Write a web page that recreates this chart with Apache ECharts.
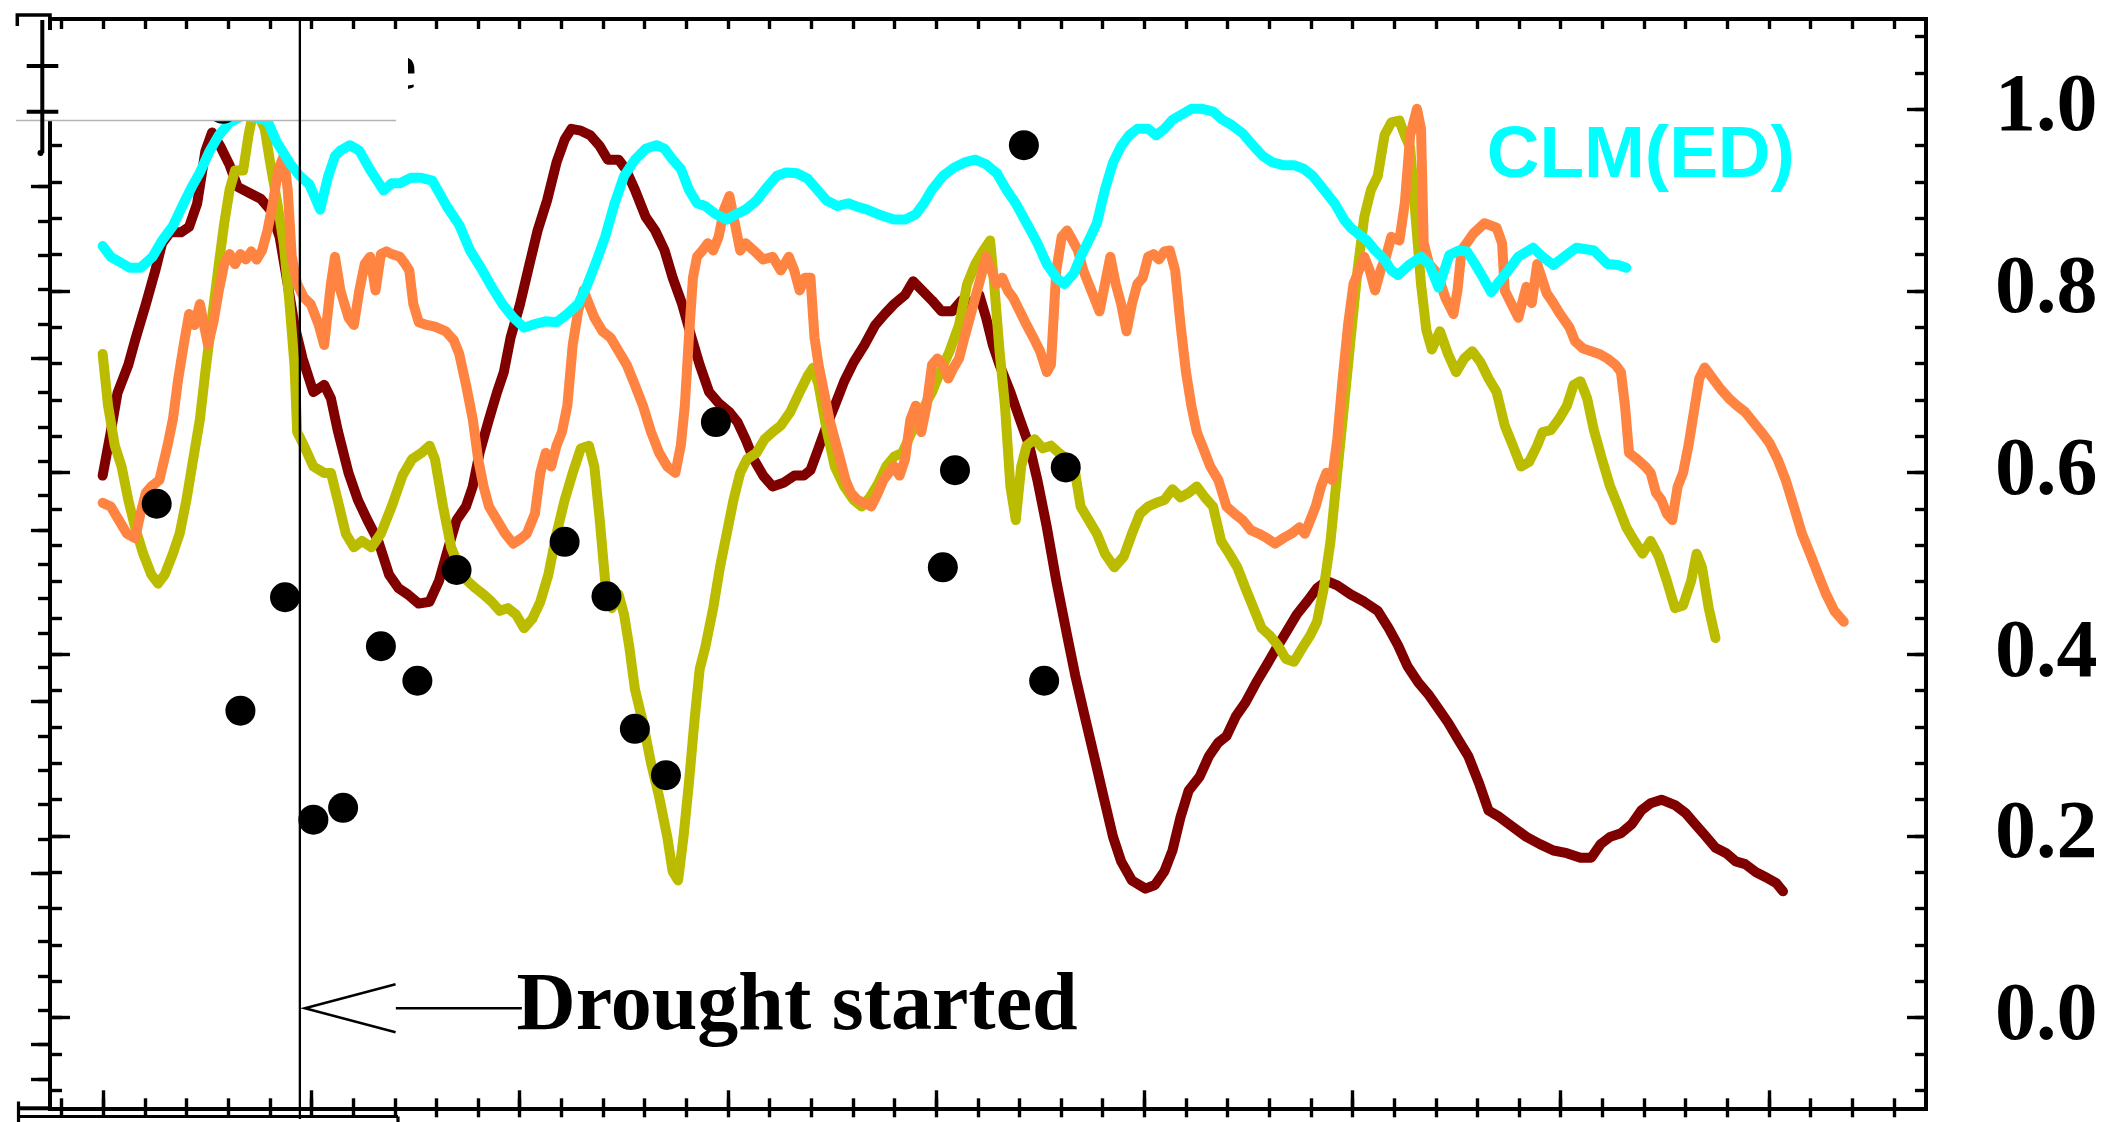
<!DOCTYPE html>
<html>
<head>
<meta charset="utf-8">
<title>Drought response</title>
<script src="https://cdn.jsdelivr.net/npm/echarts@6/dist/echarts.min.js"></script>
<style>
  html, body { margin: 0; padding: 0; background: #ffffff; }
  #chart { width: 2118px; height: 1122px; }
</style>
</head>
<body>
<div id="chart"></div>
<script>
// ---- data: [day, normalised value] ----
const maroonSeries = [
  [0,0.597],[6,0.645],[11,0.688],[19,0.719],[24,0.746],[32,0.786],[39,0.823],[44,0.853],[50,0.865],[58,0.865],
  [64,0.871],[70,0.897],[76,0.954],[81,0.975],[87,0.960],[94,0.939],[100,0.915],[109,0.908],[117,0.902],[124,0.890],
  [131,0.860],[137,0.808],[142,0.763],[148,0.726],[156,0.689],[164,0.697],[169,0.682],[174,0.647],[182,0.600],[189,0.570],
  [196,0.548],[204,0.525],[212,0.488],[219,0.473],[226,0.466],[234,0.456],[242,0.458],[249,0.481],[256,0.518],[262,0.548],
  [269,0.563],[274,0.585],[279,0.622],[286,0.659],[292,0.689],[297,0.711],[302,0.749],[309,0.786],[316,0.830],[322,0.867],
  [329,0.900],[336,0.942],[342,0.967],[347,0.979],[354,0.977],[361,0.972],[368,0.960],[374,0.945],[382,0.945],[387,0.935],
  [394,0.912],[402,0.882],[409,0.867],[416,0.845],[422,0.815],[429,0.786],[436,0.749],[442,0.719],[449,0.689],[456,0.677],
  [464,0.667],[470,0.656],[476,0.637],[482,0.615],[489,0.597],[496,0.585],[504,0.589],[512,0.597],[519,0.597],[524,0.603],
  [530,0.627],[536,0.652],[542,0.674],[549,0.701],[556,0.722],[564,0.741],[572,0.763],[579,0.775],[586,0.786],[594,0.796],
  [600,0.811],[606,0.802],[614,0.790],[621,0.778],[629,0.778],[636,0.790],[642,0.786],[649,0.796],[654,0.771],[659,0.741],
  [664,0.719],[672,0.689],[679,0.659],[686,0.630],[692,0.592],[699,0.540],[706,0.481],[714,0.421],[720,0.377],[727,0.332],
  [734,0.288],[741,0.243],[748,0.199],[754,0.172],[762,0.151],[772,0.142],[779,0.146],[786,0.161],[792,0.184],[798,0.221],
  [804,0.250],[812,0.265],[819,0.288],[826,0.303],[832,0.310],[839,0.332],[846,0.347],[854,0.369],[862,0.389],[869,0.407],
  [876,0.424],[884,0.444],[892,0.459],[899,0.473],[906,0.481],[914,0.476],[924,0.466],[934,0.458],[944,0.448],[952,0.429],
  [959,0.410],[966,0.387],[974,0.369],[982,0.355],[989,0.340],[996,0.325],[1004,0.305],[1011,0.288],[1019,0.258],[1026,0.228],
  [1034,0.221],[1044,0.210],[1054,0.199],[1064,0.191],[1074,0.184],[1084,0.181],[1094,0.176],[1102,0.176],[1109,0.191],[1116,0.199],
  [1124,0.203],[1132,0.213],[1139,0.228],[1146,0.236],[1154,0.240],[1164,0.234],[1172,0.225],[1179,0.213],[1186,0.201],[1194,0.187],
  [1202,0.181],[1209,0.172],[1216,0.169],[1224,0.160],[1232,0.154],[1239,0.148],[1244,0.139]
];

const oliveSeries = [
  [0,0.731],[4,0.674],[9,0.630],[14,0.607],[19,0.570],[24,0.540],[30,0.511],[36,0.488],[41,0.478],[46,0.488],
  [52,0.511],[57,0.533],[62,0.570],[67,0.615],[72,0.659],[76,0.711],[81,0.771],[86,0.830],[90,0.875],[94,0.912],
  [98,0.933],[104,0.933],[108,0.972],[111,0.994],[115,0.995],[120,0.979],[124,0.942],[129,0.900],[134,0.853],[138,0.793],
  [142,0.719],[144,0.645],[149,0.630],[156,0.607],[164,0.600],[169,0.600],[174,0.570],[180,0.533],[186,0.518],[192,0.525],
  [199,0.518],[206,0.533],[214,0.563],[222,0.597],[229,0.615],[236,0.622],[242,0.630],[246,0.615],[252,0.563],[258,0.518],
  [264,0.496],[270,0.481],[276,0.473],[282,0.466],[288,0.458],[294,0.448],[300,0.451],[306,0.444],[312,0.429],[318,0.439],
  [324,0.458],[330,0.488],[336,0.533],[342,0.570],[348,0.600],[354,0.627],[360,0.630],[364,0.607],[368,0.548],[372,0.481],
  [377,0.451],[382,0.466],[386,0.444],[390,0.407],[394,0.362],[400,0.325],[406,0.280],[412,0.243],[418,0.199],[422,0.161],
  [426,0.151],[430,0.199],[434,0.258],[438,0.325],[442,0.384],[446,0.407],[452,0.451],[457,0.496],[462,0.533],[467,0.570],
  [472,0.600],[477,0.615],[484,0.622],[490,0.637],[496,0.645],[502,0.652],[509,0.667],[516,0.689],[522,0.707],[526,0.716],
  [530,0.697],[536,0.647],[542,0.607],[549,0.585],[556,0.570],[562,0.563],[568,0.573],[574,0.588],[580,0.607],[586,0.618],
  [592,0.622],[599,0.645],[606,0.667],[614,0.689],[620,0.711],[627,0.734],[634,0.763],[640,0.808],[646,0.830],[652,0.845],
  [657,0.856],[660,0.808],[664,0.734],[668,0.674],[672,0.585],[676,0.548],[680,0.607],[684,0.630],[690,0.637],[696,0.627],
  [702,0.630],[708,0.622],[714,0.615],[720,0.600],[724,0.563],[730,0.548],[736,0.533],[742,0.511],[749,0.496],[756,0.508],
  [762,0.533],[768,0.555],[774,0.563],[780,0.567],[786,0.570],[792,0.582],[798,0.573],[804,0.578],[810,0.585],[816,0.573],
  [822,0.563],[828,0.525],[834,0.511],[840,0.496],[846,0.473],[852,0.451],[858,0.429],[864,0.421],[870,0.410],[876,0.395],
  [882,0.392],[888,0.407],[894,0.421],[899,0.436],[904,0.473],[909,0.525],[914,0.600],[919,0.674],[924,0.749],[929,0.823],
  [934,0.882],[939,0.912],[944,0.927],[949,0.972],[954,0.986],[960,0.988],[964,0.972],[968,0.958],[972,0.882],[976,0.808],
  [980,0.757],[984,0.736],[990,0.756],[996,0.731],[1002,0.711],[1008,0.726],[1014,0.734],[1020,0.722],[1026,0.704],[1032,0.689],
  [1038,0.652],[1044,0.630],[1050,0.607],[1056,0.612],[1062,0.630],[1066,0.645],[1072,0.647],[1078,0.659],[1084,0.674],[1089,0.697],
  [1094,0.701],[1099,0.682],[1104,0.647],[1110,0.615],[1116,0.585],[1122,0.563],[1128,0.540],[1134,0.525],[1140,0.511],[1146,0.525],
  [1152,0.508],[1158,0.481],[1164,0.451],[1170,0.454],[1176,0.481],[1180,0.511],[1184,0.496],[1189,0.451],[1194,0.418]
];

const orangeSeries = [
  [0,0.567],[6,0.563],[12,0.548],[18,0.533],[24,0.528],[28,0.555],[32,0.578],[36,0.585],[42,0.592],[48,0.630],
  [52,0.659],[56,0.704],[60,0.741],[64,0.775],[68,0.763],[72,0.786],[75,0.763],[78,0.741],[82,0.766],[86,0.801],
  [90,0.830],[94,0.841],[98,0.830],[102,0.841],[106,0.835],[110,0.844],[114,0.835],[118,0.845],[122,0.867],[126,0.897],
  [130,0.934],[134,0.949],[137,0.912],[140,0.838],[144,0.808],[149,0.793],[154,0.786],[160,0.763],[164,0.741],[169,0.808],
  [172,0.838],[176,0.801],[182,0.771],[186,0.763],[190,0.801],[194,0.830],[198,0.838],[202,0.801],[206,0.841],[210,0.844],
  [214,0.841],[220,0.838],[224,0.830],[227,0.823],[230,0.786],[234,0.766],[240,0.763],[246,0.761],[254,0.756],[260,0.746],
  [264,0.731],[269,0.697],[274,0.659],[278,0.615],[282,0.585],[286,0.563],[292,0.548],[298,0.533],[304,0.522],[310,0.528],
  [314,0.533],[320,0.555],[324,0.600],[328,0.622],[332,0.607],[336,0.630],[340,0.645],[344,0.674],[348,0.741],[352,0.778],
  [356,0.801],[360,0.786],[364,0.771],[370,0.756],[376,0.749],[382,0.734],[388,0.719],[394,0.697],[400,0.674],[406,0.645],
  [412,0.622],[418,0.607],[424,0.600],[428,0.630],[431,0.674],[434,0.749],[437,0.815],[440,0.838],[444,0.845],[448,0.853],
  [452,0.845],[456,0.860],[460,0.890],[464,0.905],[468,0.875],[472,0.845],[476,0.853],[482,0.845],[489,0.835],[496,0.838],
  [502,0.823],[508,0.838],[512,0.823],[516,0.801],[520,0.815],[524,0.815],[527,0.749],[530,0.719],[534,0.689],[538,0.659],
  [542,0.637],[546,0.615],[550,0.592],[554,0.578],[559,0.570],[564,0.567],[569,0.563],[574,0.578],[578,0.592],[582,0.600],
  [586,0.607],[590,0.597],[594,0.615],[598,0.659],[602,0.674],[606,0.645],[610,0.674],[614,0.719],[618,0.726],[622,0.719],
  [626,0.704],[630,0.716],[634,0.726],[638,0.749],[642,0.771],[646,0.793],[650,0.815],[654,0.838],[658,0.823],[662,0.808],
  [666,0.815],[670,0.801],[674,0.793],[679,0.778],[684,0.763],[689,0.749],[694,0.734],[699,0.711],[702,0.719],[706,0.823],
  [710,0.860],[714,0.867],[718,0.856],[722,0.845],[726,0.823],[730,0.808],[734,0.793],[738,0.778],[742,0.808],[746,0.838],
  [750,0.808],[754,0.786],[758,0.756],[762,0.786],[766,0.808],[770,0.815],[774,0.838],[778,0.841],[782,0.835],[786,0.844],
  [790,0.845],[794,0.823],[798,0.763],[802,0.711],[806,0.674],[810,0.645],[814,0.630],[820,0.607],[826,0.592],[832,0.563],
  [838,0.555],[844,0.548],[850,0.537],[856,0.533],[862,0.528],[868,0.522],[874,0.528],[880,0.533],[886,0.540],[890,0.533],
  [894,0.548],[898,0.563],[902,0.585],[906,0.600],[910,0.592],[914,0.637],[918,0.704],[922,0.763],[926,0.808],[930,0.823],
  [934,0.838],[938,0.823],[942,0.801],[946,0.823],[950,0.838],[954,0.860],[960,0.856],[964,0.897],[968,0.972],[973,1.001],
  [976,0.979],[978,0.853],[982,0.830],[988,0.820],[994,0.793],[1000,0.775],[1003,0.801],[1006,0.845],[1015,0.864],[1023,0.875],
  [1032,0.870],[1036,0.853],[1038,0.801],[1048,0.771],[1054,0.805],[1058,0.787],[1062,0.830],[1069,0.798],[1074,0.787],[1079,0.775],
  [1086,0.760],[1090,0.745],[1096,0.737],[1102,0.734],[1108,0.731],[1114,0.726],[1120,0.719],[1124,0.711],[1127,0.674],[1130,0.622],
  [1136,0.615],[1142,0.607],[1146,0.600],[1150,0.578],[1154,0.570],[1158,0.555],[1162,0.548],[1166,0.585],[1170,0.600],[1174,0.630],
  [1178,0.667],[1182,0.704],[1186,0.716],[1192,0.704],[1198,0.692],[1204,0.682],[1210,0.674],[1216,0.667],[1222,0.656],[1228,0.645],
  [1234,0.633],[1240,0.615],[1246,0.592],[1252,0.563],[1258,0.533],[1264,0.511],[1270,0.488],[1276,0.466],[1282,0.448],[1289,0.436]
];

const cyanSeries = [
  [0,0.850],[6,0.838],[13,0.832],[20,0.826],[28,0.826],[37,0.838],[44,0.856],[52,0.872],[60,0.897],[66,0.915],
  [72,0.931],[79,0.954],[86,0.972],[94,0.986],[104,0.994],[114,0.991],[122,0.988],[129,0.964],[139,0.940],[146,0.927],
  [153,0.918],[161,0.890],[167,0.927],[172,0.949],[176,0.955],[183,0.961],[190,0.955],[198,0.934],[208,0.911],[214,0.919],
  [220,0.919],[228,0.925],[236,0.925],[244,0.922],[255,0.893],[264,0.873],[272,0.845],[280,0.826],[288,0.805],[296,0.786],
  [304,0.771],[312,0.760],[320,0.764],[328,0.767],[336,0.766],[344,0.775],[352,0.786],[359,0.808],[366,0.835],[372,0.860],
  [379,0.897],[386,0.927],[394,0.945],[402,0.957],[410,0.961],[416,0.957],[422,0.945],[428,0.935],[434,0.912],[440,0.897],
  [446,0.894],[454,0.885],[462,0.879],[469,0.885],[476,0.890],[484,0.900],[492,0.915],[499,0.927],[506,0.931],[514,0.930],
  [522,0.924],[529,0.912],[536,0.900],[544,0.894],[552,0.897],[559,0.893],[566,0.890],[574,0.885],[580,0.882],[586,0.879],
  [594,0.879],[602,0.885],[608,0.897],[614,0.912],[622,0.927],[630,0.936],[638,0.942],[646,0.945],[654,0.940],[662,0.930],
  [669,0.912],[676,0.897],[684,0.875],[692,0.853],[699,0.830],[706,0.815],[712,0.808],[719,0.820],[724,0.838],[730,0.856],
  [736,0.875],[742,0.912],[748,0.942],[754,0.960],[760,0.972],[766,0.979],[774,0.979],[780,0.972],[786,0.979],[792,0.989],
  [799,0.995],[806,1.001],[814,1.001],[822,0.998],[829,0.989],[836,0.983],[844,0.974],[852,0.960],[859,0.949],[866,0.942],
  [874,0.939],[882,0.939],[889,0.935],[896,0.927],[904,0.912],[912,0.897],[919,0.879],[924,0.870],[929,0.864],[936,0.856],
  [942,0.845],[949,0.835],[954,0.823],[959,0.818],[968,0.830],[976,0.838],[982,0.830],[989,0.804],[997,0.840],[1004,0.845],
  [1010,0.844],[1016,0.830],[1022,0.815],[1028,0.799],[1034,0.811],[1039,0.820],[1048,0.838],[1059,0.848],[1066,0.838],[1074,0.829],
  [1082,0.838],[1091,0.848],[1104,0.845],[1114,0.830],[1122,0.829],[1128,0.826]
];

const observedPoints = [
  [40,0.566],[89,1.001],[102,0.338],[135,0.463],[156,0.218],[178,0.231],[206,0.409],[233,0.371],[262,0.493],[342,0.524],
  [373,0.464],[394,0.318],[417,0.267],[454,0.656],[622,0.496],[631,0.603],[682,0.961],[697,0.371],[713,0.606]
];

const droughtStartDay = 146;
const yTickLabels = ['0.0', '0.2', '0.4', '0.6', '0.8', '1.0'];
const seriesLabel = 'CLM(ED)';
const droughtLabel = 'Drought started';

// ---- layout / style ----
const BLACK = '#000000';
const AXIS_W = 4;
const TICK_W = 3.4;
const LINE_W = 10;
const X_MIN = -38.98, X_MAX = 1349.85;   // data extent of the framed area
const SERIF = '"Liberation Serif", "Times New Roman", serif';
const SANS = '"Liberation Sans", Arial, sans-serif';

function frameAxis(pos, gridIndex, extra) {
  return Object.assign({
    gridIndex, type: 'value', position: pos,
    axisLine: { show: true, onZero: false, lineStyle: { color: BLACK, width: AXIS_W, cap: 'square' } },
    axisTick: { show: false }, axisLabel: { show: false }, splitLine: { show: false }
  }, extra);
}
function tickAxis(pos, gridIndex, min, max, interval, len, inside, offset, extra) {
  return Object.assign({
    gridIndex, type: 'value', position: pos, min, max, interval, offset,
    axisLine: { show: false, onZero: false },
    axisTick: { show: true, inside, length: len, lineStyle: { color: BLACK, width: TICK_W } },
    axisLabel: { show: false }, splitLine: { show: false }
  }, extra);
}
function seriesLine(name, data, color) {
  return {
    name, type: 'line', data, xAxisIndex: 0, yAxisIndex: 0,
    showSymbol: false, symbol: 'none', smooth: false, z: 2,
    itemStyle: { color },
    lineStyle: { color, width: LINE_W, cap: 'round', join: 'round', opacity: 1 },
    emphasis: { disabled: true }
  };
}

const chart = echarts.init(document.getElementById('chart'), null, { renderer: 'canvas' });

const option = {
  animation: false,
  backgroundColor: '#ffffff',
  grid: [
    { left: 50, top: 19, width: 1876, height: 1089.3, outerBoundsMode: 'none' },        // data frame
    { left: 61.66, top: 36.63, width: 1832.2, height: 1053.74, outerBoundsMode: 'none' }, // minor ticks
    { left: 103.3, top: 109.3, width: 1665.6, height: 908.4, outerBoundsMode: 'none' },   // major ticks
    { left: 50, top: 186.7, width: 100, height: 892.3, outerBoundsMode: 'none' }         // outer left scale
  ],
  xAxis: [
    frameAxis('bottom', 0, { min: X_MIN, max: X_MAX }),
    frameAxis('top', 0, { min: X_MIN, max: X_MAX }),
    tickAxis('bottom', 1, -1, 43, 1, 10, true, 17.93),
    tickAxis('bottom', 1, -1, 43, 1, 9, false, 17.93),
    tickAxis('top', 1, -1, 43, 1, 10, true, 17.63),
    tickAxis('bottom', 2, 0, 40, 5, 18, true, 90.6),
    { gridIndex: 3, type: 'value', show: false, min: 0, max: 1 }
  ],
  yAxis: [
    frameAxis('left', 0, { min: -0.1, max: 1.1 }),
    frameAxis('right', 0, { min: -0.1, max: 1.1 }),
    tickAxis('left', 1, -0.08, 1.08, 0.04, 12, true, 11.66),
    tickAxis('right', 1, -0.08, 1.08, 0.04, 11, true, 32.14),
    tickAxis('left', 2, 0, 1, 0.2, 20, true, 53.3),
    tickAxis('right', 2, 0, 1, 0.2, 19, true, 157.1, {
      axisLabel: {
        show: true, margin: 69, color: BLACK,
        fontFamily: SERIF, fontWeight: 'bold', fontSize: 82,
        formatter: (v) => yTickLabels[Math.round(v / 0.2)]
      }
    }),
    tickAxis('left', 3, 0, 26, 1, 12, false, 0, { inverse: true }),
    tickAxis('left', 3, 0, 26, 5, 19, false, 0, { inverse: true })
  ],
  series: [
    seriesLine('maroon', maroonSeries, '#800000'),
    seriesLine('olive', oliveSeries, '#BBBC00'),
    seriesLine('orange', orangeSeries, '#FF8442'),
    seriesLine(seriesLabel, cyanSeries, '#00FFFF'),
    {
      name: 'observed', type: 'scatter', data: observedPoints, xAxisIndex: 0, yAxisIndex: 0,
      symbol: 'circle', symbolSize: 30, z: 3,
      itemStyle: { color: BLACK, borderWidth: 0, opacity: 1 },
      emphasis: { disabled: true }
    }
  ]
};
chart.setOption(option);

// Annotation geometry is anchored on the drought-start day.
const dx = chart.convertToPixel({ xAxisIndex: 0, yAxisIndex: 0 }, [droughtStartDay, 0])[0];
const arrowY = 1008.3;

function seg(x1, y1, x2, y2, w, z, color) {
  return { type: 'line', shape: { x1, y1, x2, y2 }, style: { stroke: color || BLACK, lineWidth: w }, z, silent: true };
}

chart.setOption({
  graphic: [
    // partly hidden legend entry
    { type: 'text', x: 386, y: 71.3, z: 49, silent: true,
      style: { text: 'e', font: 'bold 68px ' + SERIF, fill: BLACK, verticalAlign: 'middle', align: 'left' } },
    // legend box
    { type: 'rect', shape: { x: 17, y: 30, width: 391, height: 90 }, style: { fill: '#ffffff' }, z: 50, silent: true },
    seg(16, 120.5, 396, 120.5, 1.5, 51, '#b4b4b4'),
    // inset scale on the upper left
    seg(42.3, 20, 42.3, 153, 4, 60),
    seg(26.7, 66, 58.3, 66, 4, 60),
    seg(26.7, 111.7, 58.3, 111.7, 4, 60),
    { type: 'circle', shape: { cx: 40.5, cy: 153, r: 3 }, style: { fill: BLACK }, z: 60, silent: true },
    { type: 'polyline', shape: { points: [[17.3, 26], [17.3, 15], [50, 15], [50, 19]] },
      style: { stroke: BLACK, lineWidth: 3.5, fill: null }, z: 60, silent: true },
    // lower left frame pieces
    seg(18, 1108.3, 50, 1108.3, 4, 60),
    seg(18, 1116.5, 398, 1116.5, 3.2, 60),
    seg(18.5, 1101.5, 18.5, 1122, 3.2, 60),
    seg(398, 1116.5, 398, 1122, 3.2, 60),
    // drought onset marker
    seg(dx, 17, dx, 1119, 2.3, 60),
    { type: 'polyline', shape: { points: [[dx + 95.7, 984.3], [dx + 5, arrowY], [dx + 95.7, 1032.3]] },
      style: { stroke: BLACK, lineWidth: 2.5, fill: null }, z: 60, silent: true },
    seg(dx + 96, arrowY, dx + 222, arrowY, 2.5, 60),
    { type: 'text', x: dx + 216.7, y: arrowY, z: 61, silent: true,
      style: { text: droughtLabel, font: 'bold 82px ' + SERIF, fill: BLACK, verticalAlign: 'middle', align: 'left' } },
    // series label
    { type: 'text', x: 1486.7, y: 156.4, z: 61, silent: true,
      style: { text: seriesLabel, font: 'bold 73px ' + SANS, fill: '#00FFFF', verticalAlign: 'middle', align: 'left' } }
  ]
});
</script>
</body>
</html>
